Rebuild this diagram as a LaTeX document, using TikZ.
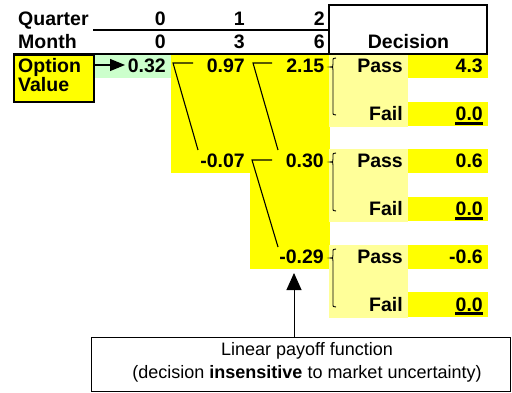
\documentclass[tikz,border=0pt]{standalone}
\usepackage{fontspec}
\setmainfont{Liberation Sans}
\usetikzlibrary{arrows.meta}
\definecolor{yel}{HTML}{FFFF00}
\definecolor{lyel}{HTML}{FFFF99}
\definecolor{lgrn}{HTML}{CCFFCC}
\begin{document}
\begin{tikzpicture}[x=1pt,y=-1pt,
  txt/.style={font=\fontsize{19.5}{20}\selectfont\bfseries, inner sep=0pt},
  num/.style={txt, anchor=base east},
  lbl/.style={txt, anchor=base west},
  rule/.style={line width=2pt},
  tree/.style={line width=1.1pt},
  brc/.style={line width=0.9pt},
  uline/.style={line width=2.4pt}]
\useasboundingbox (0,0) rectangle (512,393);
% cell fills
\fill[lgrn] (93,54) rectangle (171,78);
\fill[yel] (171,54) rectangle (250,173);
\fill[yel] (250,54) rectangle (330,269);
\foreach \t in {54,149,245} \fill[lyel] (329,\t) rectangle (408,\t+73);
\foreach \t in {54,102,149,197,245,292} \fill[yel] (408,\t) rectangle (488,\t+24.5);
% header rules
\draw[rule] (93,30) -- (329,30);
\draw[rule] (13,54) -- (488,54);
\draw[rule] (329,54) -- (329,5.5) -- (487,5.5) -- (487,54);
% header text
\node[lbl] (q) at (18,26) {Quarter};
\node[lbl] (m) at (18,49) {Month};
\node[num] (q0) at (166,26) {0};
\node[num] (q1) at (245,26) {1};
\node[num] (q2) at (325,26) {2};
\node[num] (m0) at (166,49) {0};
\node[num] (m1) at (245,49) {3};
\node[num] (m2) at (325,49) {6};
\node[txt, anchor=base] (dec) at (408.5,49) {Decision};
% option value box
\node[draw, rule, fill=yel, minimum width=80pt, minimum height=47pt, anchor=north west, inner sep=0pt] (opt) at (13,54) {};
\node[lbl] (opt1) at (18,73) {Option};
\node[lbl] (opt2) at (18,92) {Value};
% values
\node[num] (v0) at (166,73) {0.32};
\node[num] (v1a) at (245,73) {0.97};
\node[num] (v1b) at (245,168) {-0.07};
\node[num] (v2a) at (324.5,73) {2.15};
\node[num] (v2b) at (324,168) {0.30};
\node[num] (v2c) at (324,263) {-0.29};
% arrow to option value
\coordinate (tipa) at (125,65);
\draw[line width=1.2pt, -{Triangle[length=15pt,width=12pt]}] (opt.east |- tipa) -- (tipa);
% tree connectors
\coordinate (a1) at (173,63); \coordinate (a2) at (193,63); \coordinate (a3) at (198,150);
\draw[tree] (a2) -- (a1) -- (a3);
\coordinate (b1) at (253,63); \coordinate (b2) at (272,63); \coordinate (b3) at (278,150);
\draw[tree] (b2) -- (b1) -- (b3);
\coordinate (c1) at (252,160); \coordinate (c2) at (272,160); \coordinate (c3) at (278,247);
\draw[tree] (c2) -- (c1) -- (c3);
% braces
\foreach \t/\m/\b in {58/67/115, 153/162/211, 249/258/307}
  \draw[brc] (336,\t) .. controls (333,\t) .. (333,\t+4) -- (333,\m-3) .. controls (333,\m) .. (330,\m) .. controls (333,\m) .. (333,\m+3) -- (333,\b-4) .. controls (333,\b) .. (336,\b);
% decisions
\node[num] (p1) at (403,73) {Pass};
\node[num] (f1) at (403,121) {Fail};
\node[num] (p2) at (403,168) {Pass};
\node[num] (f2) at (403,216) {Fail};
\node[num] (p3) at (403,263) {Pass};
\node[num] (f3) at (403,311) {Fail};
\node[num] (pv1) at (483,73) {4.3};
\node[num] (fv1) at (483,121) {0.0};
\node[num] (pv2) at (483,168) {0.6};
\node[num] (fv2) at (483,216) {0.0};
\node[num] (pv3) at (483,263) {-0.6};
\node[num] (fv3) at (483,311) {0.0};
\foreach \n in {fv1,fv2,fv3}
  \draw[uline] ([yshift=-2.6pt]\n.base west) -- ([yshift=-2.6pt]\n.base east);
% note box
\node[draw, line width=0.9pt, minimum width=419pt, minimum height=54pt, inner sep=0pt] (note) at (301,364) {};
\node[align=center, inner sep=0pt, font=\fontsize{18}{23}\selectfont] (notetxt) at (307,362.5)
  {Linear payoff function\\(decision \textbf{insensitive} to market uncertainty)};
\coordinate (tipb) at (294,273);
\draw[line width=1pt, -{Triangle[length=17pt,width=15pt]}] (note.north -| tipb) -- (tipb);
\end{tikzpicture}
\end{document}
